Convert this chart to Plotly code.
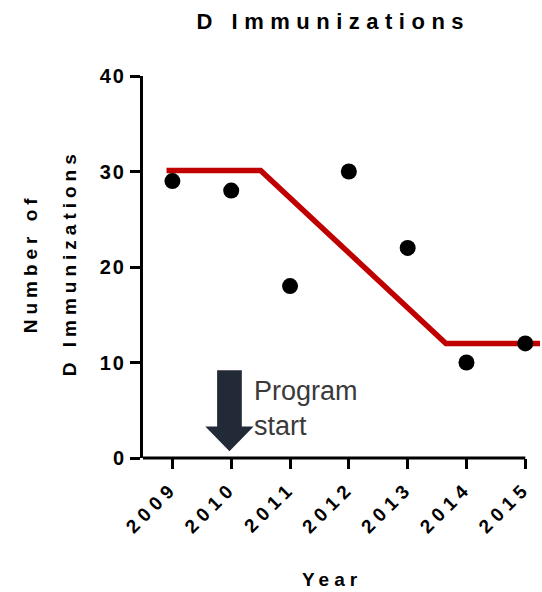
import plotly.graph_objects as go

# ---- data ----
years = [2009, 2010, 2011, 2012, 2013, 2014, 2015]
immunizations = [29, 28, 18, 30, 22, 10, 12]
year_labels = [str(y) for y in years]

trend_x = [2008.9, 2010.5, 2013.65, 2015.25]
trend_y = [30.1, 30.1, 12, 12]

y_ticks = [0, 10, 20, 30, 40]

arrow_x = 2009.97
arrow_top = 9.2
arrow_head_base = 3.3
arrow_tip = 0.7
arrow_shaft_half = 0.21
arrow_head_half = 0.41

title_text = "D Immunizations"
ytitle_1 = "Number of"
ytitle_2 = "D Immunizations"
xtitle = "Year"
note_text = "Program<br>start"

FONT = "Liberation Sans, Arial, sans-serif"

fig = go.Figure()

fig.add_trace(go.Scatter(
    x=trend_x, y=trend_y, mode="lines",
    line=dict(color="#C00000", width=5.5),
    hoverinfo="skip", showlegend=False))

fig.add_trace(go.Scatter(
    x=years, y=immunizations, mode="markers",
    marker=dict(color="black", size=16),
    showlegend=False))

arrow_path = (
    f"M {arrow_x - arrow_shaft_half},{arrow_top} "
    f"L {arrow_x + arrow_shaft_half},{arrow_top} "
    f"L {arrow_x + arrow_shaft_half},{arrow_head_base} "
    f"L {arrow_x + arrow_head_half},{arrow_head_base} "
    f"L {arrow_x},{arrow_tip} "
    f"L {arrow_x - arrow_head_half},{arrow_head_base} "
    f"L {arrow_x - arrow_shaft_half},{arrow_head_base} Z"
)
fig.add_shape(type="path", path=arrow_path, xref="x", yref="y",
              fillcolor="#212a36", line=dict(width=0))

# x-axis line (ends at last tick, like the original)
fig.add_shape(type="line", xref="x", yref="paper",
              x0=2008.45, x1=years[-1], y0=0, y1=0,
              line=dict(color="black", width=3))

fig.add_annotation(x=2010.36, y=5.2, xref="x", yref="y", text=note_text,
                   showarrow=False, xanchor="left", yanchor="middle", align="left",
                   font=dict(family=FONT, size=27, color="#3a3a3a"))

fig.add_annotation(x=-0.283, y=0.51, xref="paper", yref="paper", text=ytitle_1,
                   showarrow=False, textangle=-90, xanchor="center", yanchor="middle",
                   font=dict(family=FONT, size=19, color="black", weight="bold"))
fig.add_annotation(x=-0.185, y=0.51, xref="paper", yref="paper", text=ytitle_2,
                   showarrow=False, textangle=-90, xanchor="center", yanchor="middle",
                   font=dict(family=FONT, size=19, color="black", weight="bold"))
fig.add_annotation(x=0.478, y=-0.319, xref="paper", yref="paper", text=xtitle,
                   showarrow=False, xanchor="center", yanchor="middle",
                   font=dict(family=FONT, size=19, color="black", weight="bold"))

fig.update_layout(
    width=542, height=592,
    margin=dict(l=143, r=2, t=76, b=134),
    paper_bgcolor="white", plot_bgcolor="white",
    title=dict(text=title_text, x=0.615, xref="container", xanchor="center",
               y=1 - 21 / 592, yref="container", yanchor="middle",
               font=dict(family=FONT, size=22, color="black", weight="bold")),
    xaxis=dict(range=[2008.5, 2015.25], tickmode="array", tickvals=years,
               ticktext=year_labels, tickangle=-45, ticks="outside", ticklen=10,
               tickwidth=3, tickcolor="black", showgrid=False, zeroline=False,
               showline=False,
               tickfont=dict(family=FONT, size=19, color="black", weight="bold")),
    yaxis=dict(range=[0, 40], tickmode="array", tickvals=y_ticks,
               ticks="outside", ticklen=10, tickwidth=3, tickcolor="black",
               showgrid=False, zeroline=False, showline=True, linewidth=3,
               linecolor="black",
               tickfont=dict(family=FONT, size=20, color="black", weight="bold")),
)

post = """
var gd = document.getElementById('{plot_id}');
document.body.style.margin = '0';
function spacing() {
  gd.querySelectorAll('.gtitle').forEach(function(e){ e.style.letterSpacing = '6.5px'; });
  gd.querySelectorAll('.xtick text').forEach(function(e){ e.style.letterSpacing = '5.5px'; });
  gd.querySelectorAll('.ytick text').forEach(function(e){ e.style.letterSpacing = '2px'; });
  gd.querySelectorAll('.annotation-text').forEach(function(e){
    var t = e.textContent;
    if (t.indexOf('Program') === -1) { e.style.letterSpacing = '5px'; }
  });
}
spacing();
gd.on('plotly_afterplot', spacing);
"""

fig.write_html("out.html", post_script=post, config={"displayModeBar": False})
